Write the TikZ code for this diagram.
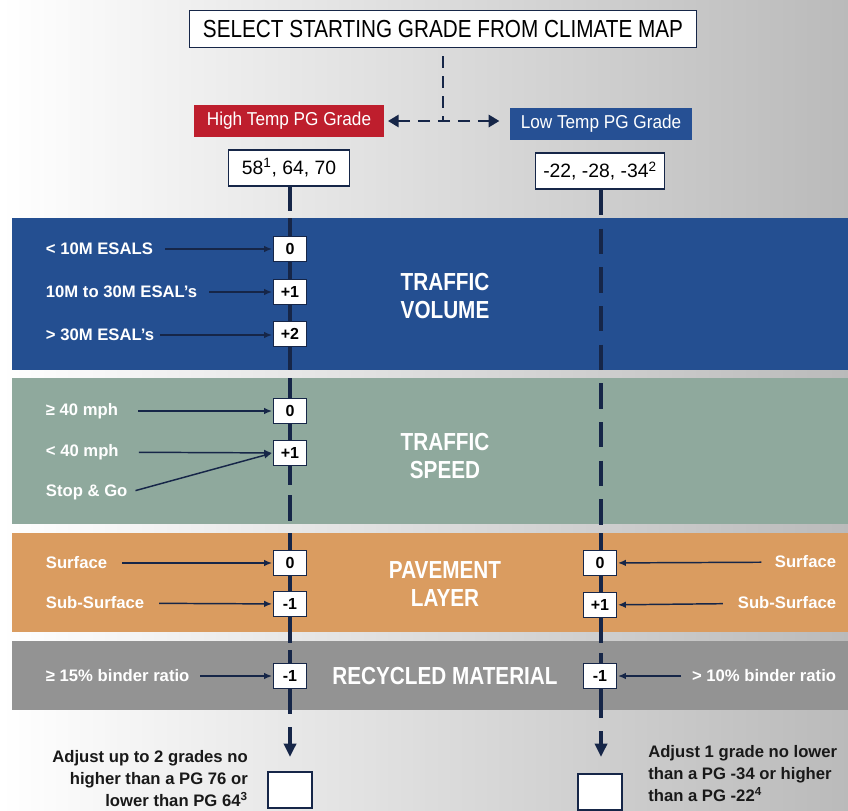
\documentclass[tikz,border=0pt]{standalone}
\usepackage{fontspec}
\setmainfont{Liberation Sans}
\newfontfamily\condensed{Liberation Sans}[FakeStretch=0.84]
\newfontfamily\semicond{Liberation Sans}[FakeStretch=0.92]
\usetikzlibrary{arrows.meta,positioning}
\definecolor{navy}{RGB}{22,38,72}
\definecolor{bandblue}{RGB}{36,79,145}
\definecolor{bandgreen}{RGB}{143,169,157}
\definecolor{bandorange}{RGB}{218,156,96}
\definecolor{bandgray}{RGB}{147,147,147}
\definecolor{hired}{RGB}{190,30,45}
\definecolor{loblue}{RGB}{38,80,148}
\definecolor{notetext}{RGB}{25,25,25}

\tikzset{
	titlebox/.style={draw=navy, line width=0.8pt, fill=white, minimum width=380pt, minimum height=28pt, inner sep=0pt, font=\condensed\fontsize{18.5}{22}\selectfont},
	gradebox/.style={text=white, minimum height=24pt, inner sep=0pt, font=\semicond\fontsize{14}{16}\selectfont},
	startbox/.style={draw=navy, line width=0.9pt, fill=white, minimum height=27pt, inner sep=0pt, font=\fontsize{14.5}{17}\selectfont},
	valbox/.style={draw=navy, line width=0.9pt, fill=white, minimum width=25pt, minimum height=19pt, inner sep=0pt, font=\bfseries\fontsize{12}{14}\selectfont},
	lbl/.style={text=white, inner sep=2pt, font=\bfseries\fontsize{12.5}{15}\selectfont},
	bandtitle/.style={text=white, align=center, font=\condensed\bfseries\fontsize{18.5}{20.5}\selectfont},
	note/.style={text=notetext, inner sep=0pt, font=\bfseries\fontsize{12.5}{16.5}\selectfont},
	feed/.style={draw=navy, line width=1.1pt, -{Latex[length=6pt,width=5pt]}, shorten <=5pt, shorten >=0.5pt},
	topdash/.style={draw=navy, line width=2.2pt, dash pattern=on 9pt off 6pt},
	spine/.style={draw=navy, line width=3pt},
	spinedash/.style={spine, dash pattern=on 19pt off 10pt}
}

\begin{document}
\begin{tikzpicture}[x=0.75pt,y=-0.75pt]
	\shade[left color=white, right color=black!27] (0,0) rectangle (848,810);
	\useasboundingbox (0,0) rectangle (848,810);

	% bands
	\fill[bandblue] (12,218) rectangle (848,370);
	\fill[bandgreen] (12,378) rectangle (848,524);
	\fill[bandorange] (12,533) rectangle (848,632);
	\fill[bandgray] (12,641) rectangle (848,710);

	% spines
	\coordinate (ltop) at (290,186);
	\coordinate (rtop) at (601,190);
	\coordinate (lend) at (290,757);
	\coordinate (rend) at (601,757);
	\draw[spinedash, -{Triangle[length=10pt,width=9pt]}] (ltop) -- (lend);
	\draw[spinedash, -{Triangle[length=10pt,width=9pt]}] (rtop) -- (rend);
	\draw[spine] (290,218) -- (290,370);
	\draw[spine] (290,378) -- (290,485);
	\draw[spine] (290,533) -- (290,643);
	\draw[spine] (290,653) -- (290,710);
	\draw[spine] (601,533) -- (601,643);
	\draw[spine] (601,653) -- (601,710);

	% top
	\node (title) [titlebox] at (443,29) {SELECT STARTING GRADE FROM CLIMATE MAP};
	\node (hi) [gradebox, fill=hired, minimum width=142pt] at (289,121) {High Temp PG Grade};
	\node (lo) [gradebox, fill=loblue, minimum width=136pt] at (601,124) {Low Temp PG Grade};
	\coordinate (fork) at (443,120);
	\draw[topdash, shorten <=6pt] (title) -- (fork);
	\draw[topdash, {Triangle[length=8pt,width=9pt]}-{Triangle[length=8pt,width=9pt]}, shorten <=3pt, shorten >=8pt] (hi.east) -- (hi.east -| lo.west);
	\node (hv) [startbox, minimum width=91pt] at (289,168) {58\textsuperscript{1}, 64, 70};
	\node (lv) [startbox, minimum width=97pt] at (600,171) {-22, -28, -34\textsuperscript{2}};

	% traffic volume
	\node (vt) [bandtitle] at (445,296) {TRAFFIC\\VOLUME};
	\node (v1) [lbl, anchor=west] at (43,249) {< 10M ESALS};
	\node (v2) [lbl, anchor=west] at (43,292) {10M to 30M ESAL's};
	\node (v3) [lbl, anchor=west] at (43,335) {> 30M ESAL's};
	\node (vb1) [valbox] at (290,249) {0};
	\node (vb2) [valbox] at (290,292) {+1};
	\node (vb3) [valbox] at (290,334) {+2};
	\draw[feed, shorten <=7pt] (v1) -- (vb1);
	\draw[feed, shorten <=7pt] (v2) -- (vb2);
	\draw[feed, shorten <=2pt] (v3) -- (vb3.west |- v3);

	% traffic speed
	\node (st) [bandtitle] at (445,456) {TRAFFIC\\SPEED};
	\node (s1) [lbl, anchor=west] at (43,411) {≥ 40 mph};
	\node (s2) [lbl, anchor=west] at (43,452) {< 40 mph};
	\node (s3) [lbl, anchor=west] at (43,492) {Stop \& Go};
	\node (sb1) [valbox] at (290,411) {0};
	\node (sb2) [valbox] at (290,453) {+1};
	\draw[feed, shorten <=13pt] (s1) -- (sb1);
	\draw[feed, shorten <=13pt] (s2) -- (sb2);
	\draw[feed, shorten <=4pt] (s3.east) -- (sb2.west);

	% pavement layer
	\node (pt) [bandtitle] at (445,584) {PAVEMENT\\LAYER};
	\node (p1) [lbl, anchor=west] at (43,563) {Surface};
	\node (p2) [lbl, anchor=west] at (43,603) {Sub-Surface};
	\node (pb1) [valbox] at (290,563) {0};
	\node (pb2) [valbox] at (290,604) {-1};
	\draw[feed, shorten <=9pt] (p1) -- (pb1);
	\draw[feed, shorten <=9pt] (p2) -- (pb2);
	\node (q1) [lbl, anchor=east] at (839,562) {Surface};
	\node (q2) [lbl, anchor=east] at (839,603) {Sub-Surface};
	\node (qb1) [valbox] at (600,563) {0};
	\node (qb2) [valbox] at (600,605) {+1};
	\draw[feed, shorten <=8pt] (q1) -- (qb1);
	\draw[feed, shorten <=9pt] (q2) -- (qb2);

	% recycled material
	\node (rt) [bandtitle] at (445,676) {RECYCLED MATERIAL};
	\node (r1) [lbl, anchor=west] at (43,676) {≥ 15\% binder ratio};
	\node (r2) [lbl, anchor=east] at (839,676) {> 10\% binder ratio};
	\node (rb1) [valbox] at (290,676) {-1};
	\node (rb2) [valbox] at (600,676) {-1};
	\draw[feed, shorten <=6pt] (r1) -- (rb1);
	\draw[feed, shorten <=6pt] (r2) -- (rb2);

	% results
	\node (lres) [valbox, minimum width=33pt, minimum height=27pt] at (290,790) {};
	\node (rres) [valbox, minimum width=33pt, minimum height=27pt] at (600,792) {};
	\node (ladj) [note, anchor=north east, align=right] at (248,750) {Adjust up to 2 grades no\\higher than a PG 76 or\\lower than PG 64\textsuperscript{3}};
	\node (radj) [note, anchor=north west, align=left] at (648,745) {Adjust 1 grade no lower\\than a PG -34 or higher\\than a PG -22\textsuperscript{4}};
\end{tikzpicture}
\end{document}
